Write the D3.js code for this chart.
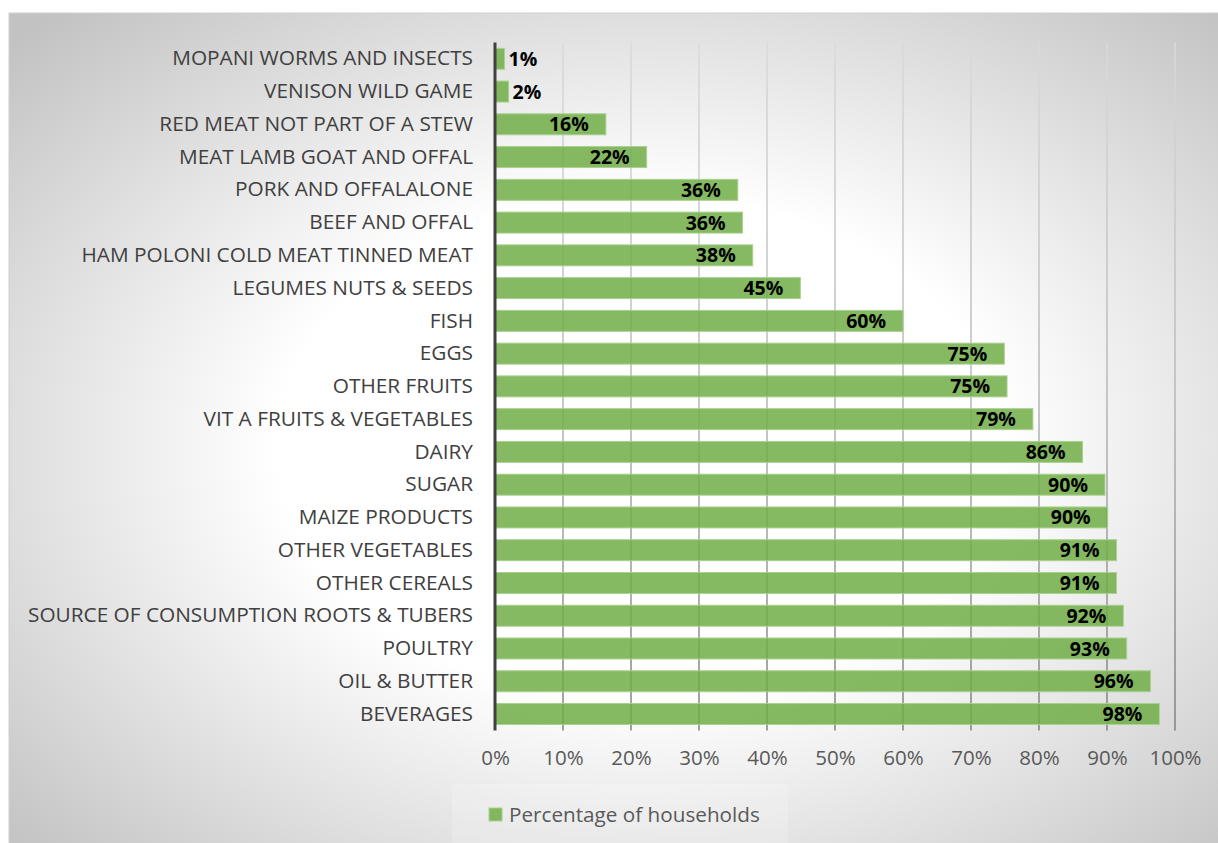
<!DOCTYPE html>
<html>
<head>
<meta charset="utf-8">
<script src="https://cdn.jsdelivr.net/npm/d3@7"></script>
<style>
  html, body { margin: 0; padding: 0; background: #ffffff; }
  svg { display: block; }
</style>
</head>
<body>
<svg id="chart" width="1218" height="843"></svg>
<script>
const categories = [
  "MOPANI WORMS AND INSECTS",
  "VENISON WILD GAME",
  "RED MEAT NOT PART OF A STEW",
  "MEAT LAMB GOAT AND OFFAL",
  "PORK AND OFFALALONE",
  "BEEF AND OFFAL",
  "HAM POLONI COLD MEAT TINNED MEAT",
  "LEGUMES NUTS & SEEDS",
  "FISH",
  "EGGS",
  "OTHER FRUITS",
  "VIT A FRUITS & VEGETABLES",
  "DAIRY",
  "SUGAR",
  "MAIZE PRODUCTS",
  "OTHER VEGETABLES",
  "OTHER CEREALS",
  "SOURCE OF CONSUMPTION ROOTS & TUBERS",
  "POULTRY",
  "OIL & BUTTER",
  "BEVERAGES"
];
const values = [0.014, 0.020, 0.163, 0.223, 0.357, 0.364, 0.379, 0.449, 0.600, 0.749, 0.753,
                0.791, 0.864, 0.897, 0.901, 0.914, 0.914, 0.924, 0.929, 0.964, 0.977];
const xTicks = [0, 0.1, 0.2, 0.3, 0.4, 0.5, 0.6, 0.7, 0.8, 0.9, 1.0];
const seriesName = "Percentage of households";

const svg = d3.select("#chart");
const defs = svg.append("defs");

// background gradient
const bg = defs.append("radialGradient").attr("id", "bgGrad")
  .attr("cx", "52%").attr("cy", "52%").attr("r", "71%");
bg.append("stop").attr("offset", "0").attr("stop-color", "#ffffff");
bg.append("stop").attr("offset", "0.42").attr("stop-color", "#ffffff");
bg.append("stop").attr("offset", "1").attr("stop-color", "#c2c2c2");

const gridGrad = defs.append("linearGradient").attr("id", "gridGrad")
  .attr("gradientUnits", "userSpaceOnUse")
  .attr("x1", 0).attr("y1", 42).attr("x2", 0).attr("y2", 731);
gridGrad.append("stop").attr("offset", "0").attr("stop-color", "#dadada");
gridGrad.append("stop").attr("offset", "0.5").attr("stop-color", "#b8b8b8");
gridGrad.append("stop").attr("offset", "1").attr("stop-color", "#808080");

svg.append("rect")
  .attr("x", 9).attr("y", 13).attr("width", 1215).attr("height", 835)
  .attr("fill", "url(#bgGrad)")
  .attr("stroke", "#d0d0d0").attr("stroke-width", 1);

const x = d3.scaleLinear().domain([0, 1]).range([495, 1175]);
const y = d3.scaleBand().domain(categories).range([42.4, 730.4])
  .paddingInner(0.36).paddingOuter(0.18);

// gridlines
svg.append("g").selectAll("line")
  .data(xTicks.filter(t => t > 0))
  .join("line")
  .attr("x1", d => x(d)).attr("x2", d => x(d))
  .attr("y1", 42.4).attr("y2", 730.4)
  .attr("stroke", "url(#gridGrad)").attr("stroke-width", 1.5);

// bars
svg.append("g").selectAll("rect")
  .data(values)
  .join("rect")
  .attr("x", x(0))
  .attr("y", (d, i) => y(categories[i]))
  .attr("width", d => x(d) - x(0))
  .attr("height", y.bandwidth())
  .attr("fill", "#70AD47").attr("fill-opacity", 0.85)
  .attr("stroke", "#a9d18e").attr("stroke-width", 1);

// value axis line at 0
svg.append("line")
  .attr("x1", x(0)).attr("x2", x(0))
  .attr("y1", 42.4).attr("y2", 730.4)
  .attr("stroke", "#404040").attr("stroke-width", 3);

// category labels
const yAxis = d3.axisLeft(y).tickSize(0).tickPadding(0);
const yg = svg.append("g").attr("transform", `translate(${x(0) - 22},0)`).call(yAxis);
yg.select(".domain").remove();
yg.selectAll("text")
  .attr("font-family", "'Open Sans', sans-serif")
  .attr("font-size", "20.8px")
  .attr("fill", "#404040");

// x tick labels
const xAxis = d3.axisBottom(x).tickValues(xTicks).tickFormat(d3.format(".0%")).tickSize(0).tickPadding(0);
const xg = svg.append("g").attr("transform", `translate(0,750)`).call(xAxis);
xg.select(".domain").remove();
xg.selectAll("text")
  .attr("font-family", "'Open Sans', sans-serif")
  .attr("font-size", "20.5px")
  .attr("fill", "#595959");

// data labels
const fmt = d3.format(".0%");
svg.append("g").selectAll("text")
  .data(values)
  .join("text")
  .attr("x", d => (x(d) - x(0) < 50) ? x(d) + 4 : x(d) - 17)
  .attr("y", (d, i) => y(categories[i]) + y.bandwidth() / 2)
  .attr("dy", "0.36em")
  .attr("text-anchor", d => (x(d) - x(0) < 50) ? "start" : "end")
  .attr("font-family", "'Open Sans', sans-serif")
  .attr("font-weight", "bold")
  .attr("font-size", "19.5px")
  .attr("fill", "#000000")
  .text(d => fmt(d));

// legend
const lg = svg.append("g");
lg.append("rect").attr("x", 452).attr("y", 784).attr("width", 336).attr("height", 59)
  .attr("fill", "#ffffff").attr("fill-opacity", 0.18);
lg.append("rect").attr("x", 489).attr("y", 808).attr("width", 13).attr("height", 13)
  .attr("fill", "#70AD47").attr("fill-opacity", 0.85)
  .attr("stroke", "#a9d18e").attr("stroke-width", 1);
lg.append("text").attr("x", 509).attr("y", 815).attr("dy", "0.36em")
  .attr("font-family", "'Open Sans', sans-serif")
  .attr("font-size", "20.7px")
  .attr("fill", "#595959")
  .text(seriesName);
</script>
</body>
</html>
